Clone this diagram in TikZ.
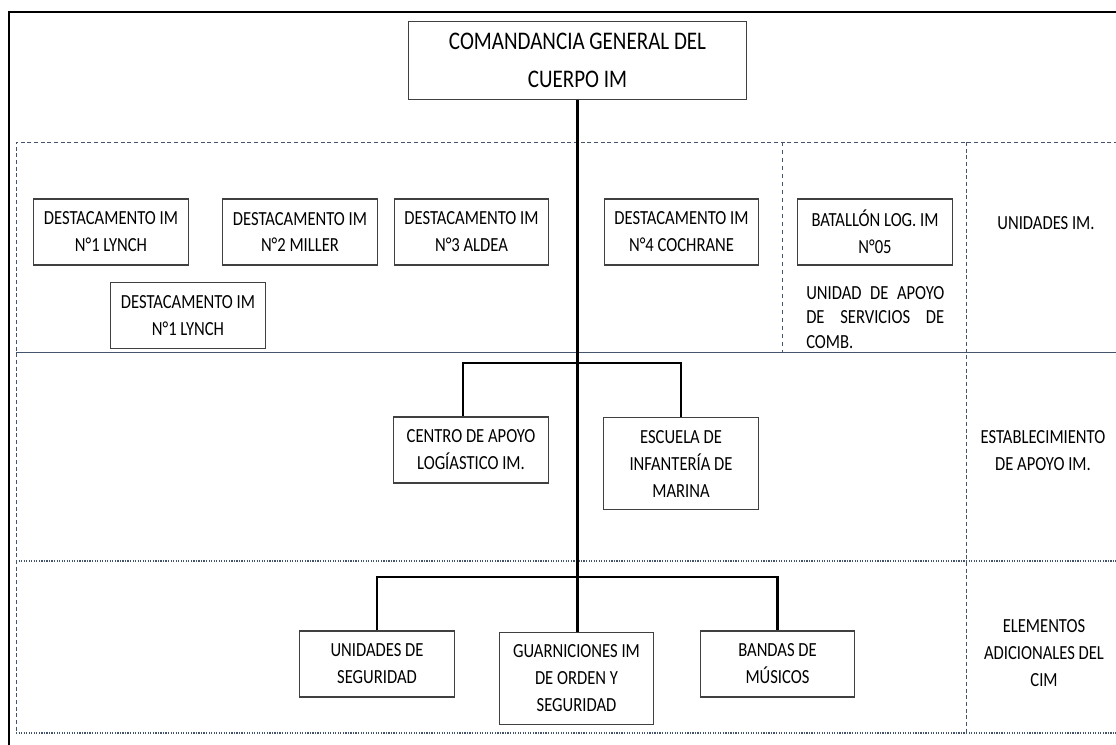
\documentclass[tikz,border=0pt]{standalone}
\usepackage{fontspec}
\setmainfont{Carlito}[FakeStretch=0.83]
\definecolor{rule}{HTML}{44546A}
\definecolor{boxline}{HTML}{404040}

\begin{document}
\begin{tikzpicture}[x=0.75pt, y=-0.75pt,
  unitbox/.style={draw=boxline, line width=0.8pt, align=center, inner sep=0pt,
    minimum width=116pt, minimum height=49.5pt, font=\fontsize{15}{20.25}\selectfont},
  tallbox/.style={unitbox, minimum height=69.5pt},
  sidetext/.style={align=center, inner sep=0pt, font=\fontsize{15}{20.25}\selectfont},
  link/.style={line width=1.8pt},
  band/.style={draw=rule, line width=0.6pt}]
\fill[white] (0,0) rectangle (1116,744);
\useasboundingbox (0,0) rectangle (1116,744);
\draw[line width=1.5pt] (1118,11.5) -- (8.5,11.5) -- (8.5,746);

%%%%%%%%%%%%%%%%%%%%%%%%%%%%%%%%%%%%%%%%

\draw[band, densely dashed] (1118,142) -- (16,142) -- (16,733);
\draw[band] (16,352) -- (1118,352);
\draw[band, line width=0.9pt, densely dotted] (16,561) -- (1118,561);
\draw[band, line width=0.9pt, densely dotted] (16,733) -- (1118,733);
\draw[band, dashed] (782,142) -- (782,352);
\draw[band, densely dashed] (966,142) -- (966,733);

%%%%%%%%%%%%%%%%%%%%%%%%%%%%%%%%%%%%%%%%

\node[unitbox, minimum width=253pt, minimum height=59pt, font=\fontsize{19}{28.5}\selectfont]
  (cmd) at (577.5,60.5) {COMANDANCIA GENERAL DEL\\CUERPO IM};

\node[unitbox] (d1) at (111,232) {DESTACAMENTO IM\\N°1 LYNCH};
\node[unitbox] (d2) at (300,232) {DESTACAMENTO IM\\N°2 MILLER};
\node[unitbox] (d3) at (471.5,232) {DESTACAMENTO IM\\N°3 ALDEA};
\node[unitbox] (d4) at (681.5,232) {DESTACAMENTO IM\\N°4 COCHRANE};
\node[unitbox] (bat) at (875,232) {BATALLÓN LOG. IM\\N°05};
\node[unitbox] (d5) at (188,315.5) {DESTACAMENTO IM\\N°1 LYNCH};
\node[anchor=north west, text width=103.5pt, align=justify, inner sep=0pt,
  font=\fontsize{15}{18.5}\selectfont] (batnote) at (806,286)
  {\hyphenpenalty=10000 \tolerance=10000 UNIDAD DE APOYO DE SERVICIOS DE COMB.};

\node[unitbox] (centro) at (471,450) {CENTRO DE APOYO\\LOGÍASTICO IM.};
\node[tallbox] (escuela) at (681,463.5) {ESCUELA DE\\INFANTERÍA DE\\MARINA};

\node[unitbox] (unidades) at (377,664) {UNIDADES DE\\SEGURIDAD};
\node[tallbox] (guar) at (576.5,678.5) {GUARNICIONES IM\\DE ORDEN Y\\SEGURIDAD};
\node[unitbox] (bandas) at (777.5,664) {BANDAS DE\\MÚSICOS};

\node[sidetext] (cu) at (1046,223) {UNIDADES IM.};
\node[sidetext] (ce) at (1043,451) {ESTABLECIMIENTO\\DE APOYO IM.};
\node[sidetext] (cc) at (1044,653) {ELEMENTOS\\ADICIONALES DEL\\CIM};

%%%%%%%%%%%%%%%%%%%%%%%%%%%%%%%%%%%%%%%%

\coordinate (fork2) at (577,363);
\coordinate (fork3) at (577,577);
\draw[link] (cmd.south) -- (cmd.south |- guar.north);
\draw[link] ([xshift=-6pt]centro.north) |- (fork2) -| (escuela.north);
\draw[link] (unidades.north) |- (fork3) -| (bandas.north);

\end{tikzpicture}
\end{document}
